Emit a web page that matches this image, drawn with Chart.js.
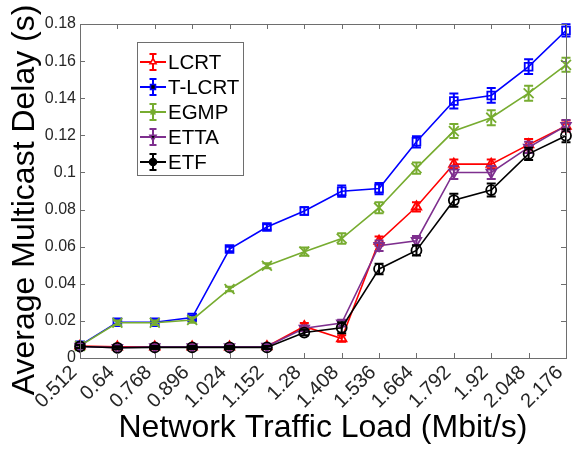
<!DOCTYPE html>
<html>
<head>
<meta charset="utf-8">
<script src="https://cdn.jsdelivr.net/npm/chart.js@4/dist/chart.umd.min.js"></script>
<style>
  html, body { margin: 0; padding: 0; background: #fff; }
  canvas { display: block; }
</style>
</head>
<body>
<canvas id="c" width="576" height="455"></canvas>
<script>
// Traffic load values (Mbit/s) along the x axis
const loads = ['0.512', '0.64', '0.768', '0.896', '1.024', '1.152', '1.28',
               '1.408', '1.536', '1.664', '1.792', '1.92', '2.048', '2.176'];

// Mean multicast delay (s) per protocol
const lcrt  = [0.0065, 0.006, 0.006, 0.006, 0.006, 0.0062, 0.017, 0.0105, 0.063, 0.0815, 0.1045, 0.1045, 0.115, 0.125];
const tlcrt = [0.0068, 0.0193, 0.0193, 0.0218, 0.0587, 0.0706, 0.0792, 0.0899, 0.0913, 0.1165, 0.1385, 0.1415, 0.157, 0.1765];
const egmp  = [0.0065, 0.019, 0.019, 0.0205, 0.0372, 0.0497, 0.0573, 0.0644, 0.081, 0.1023, 0.1223, 0.1295, 0.1427, 0.158];
const etta  = [0.0062, 0.0056, 0.006, 0.006, 0.006, 0.0062, 0.016, 0.0188, 0.0605, 0.0632, 0.100, 0.100, 0.1135, 0.1252];
const etf   = [0.0062, 0.0055, 0.0057, 0.0057, 0.0057, 0.0057, 0.0137, 0.0163, 0.048, 0.058, 0.085, 0.0905, 0.110, 0.1198];

// Half-width of the error bars (s)
const lcrtErr  = [0.001, 0.0008, 0.0008, 0.0008, 0.0008, 0.0008, 0.0018, 0.0018, 0.0025, 0.0025, 0.0025, 0.0025, 0.003, 0.003];
const tlcrtErr = [0.001, 0.0012, 0.0012, 0.0012, 0.0012, 0.0015, 0.002, 0.003, 0.003, 0.003, 0.004, 0.004, 0.004, 0.0033];
const egmpErr  = [0.001, 0.0012, 0.0012, 0.0015, 0.0012, 0.0013, 0.0022, 0.0028, 0.003, 0.003, 0.0038, 0.004, 0.004, 0.0038];
const ettaErr  = [0.0008, 0.0008, 0.0008, 0.0008, 0.0008, 0.0008, 0.0015, 0.0018, 0.0028, 0.0025, 0.0035, 0.0035, 0.003, 0.003];
const etfErr   = [0.0008, 0.0008, 0.0008, 0.0008, 0.0008, 0.0008, 0.0015, 0.003, 0.0028, 0.0028, 0.0035, 0.0035, 0.0033, 0.0035];

// Y axis range and step
const yMin = 0, yMax = 0.18, yStep = 0.02;

const FONT = 'Arial, "Liberation Sans", sans-serif';
const AXIS_COLOR = '#6e6e6e';

function series(label, data, err, color, style, radius, rotation, order) {
  return {
    label, data, errors: err,
    borderColor: color, backgroundColor: 'rgba(0,0,0,0)',
    pointBorderColor: color, pointBackgroundColor: 'rgba(0,0,0,0)',
    pointStyle: style, pointRadius: radius, pointBorderWidth: 1.8,
    pointRotation: rotation, borderWidth: 1.6, tension: 0,
    clip: false, order
  };
}

// Vertical error bars with caps, drawn right after each dataset
const errorBars = {
  id: 'errorBars',
  afterDatasetDraw(chart, args) {
    const ds = chart.data.datasets[args.index];
    if (!ds.errors) return;
    const y = chart.scales.y;
    const ctx = chart.ctx;
    ctx.save();
    ctx.strokeStyle = ds.borderColor;
    ctx.lineWidth = 2;
    args.meta.data.forEach((pt, i) => {
      const v = ds.data[i], e = ds.errors[i];
      const top = y.getPixelForValue(v + e);
      const bot = y.getPixelForValue(v - e);
      const x = pt.x, c = 4.5;
      ctx.beginPath();
      ctx.moveTo(x, top); ctx.lineTo(x, bot);
      ctx.moveTo(x - c, top); ctx.lineTo(x + c, top);
      ctx.moveTo(x - c, bot); ctx.lineTo(x + c, bot);
      ctx.stroke();
    });
    ctx.restore();
  }
};

// Axes box with inward tick marks on all four sides
const axesBox = {
  id: 'axesBox',
  afterDraw(chart) {
    const { ctx, chartArea: a, scales } = chart;
    ctx.save();
    ctx.strokeStyle = AXIS_COLOR;
    ctx.lineWidth = 1;
    ctx.strokeRect(Math.round(a.left) + 0.5, Math.round(a.top) + 0.5,
                   Math.round(a.right - a.left), Math.round(a.bottom - a.top));
    const t = 5;
    ctx.beginPath();
    scales.x.ticks.forEach((tk, i) => {
      const x = Math.round(scales.x.getPixelForTick(i)) + 0.5;
      ctx.moveTo(x, a.bottom); ctx.lineTo(x, a.bottom - t);
      ctx.moveTo(x, a.top); ctx.lineTo(x, a.top + t);
    });
    scales.y.ticks.forEach((tk, i) => {
      const yy = Math.round(scales.y.getPixelForTick(i)) + 0.5;
      ctx.moveTo(a.left, yy); ctx.lineTo(a.left + t, yy);
      ctx.moveTo(a.right, yy); ctx.lineTo(a.right - t, yy);
    });
    ctx.stroke();
    ctx.restore();
  }
};

// Boxed legend inside the plot area, each entry with its line, error bar and marker
const boxLegend = {
  id: 'boxLegend',
  afterDraw(chart) {
    const ctx = chart.ctx;
    const x0 = 137, y0 = 42, w = 106, rowH = 25, top = 20;
    const sets = chart.data.datasets;
    const h = top * 2 + rowH * (sets.length - 1) - 7;
    ctx.save();
    ctx.fillStyle = '#fff';
    ctx.fillRect(x0, y0, w, h);
    ctx.strokeStyle = AXIS_COLOR;
    ctx.lineWidth = 1;
    ctx.strokeRect(x0 + 0.5, y0 + 0.5, w, h);
    ctx.font = '20.5px ' + FONT;
    ctx.textBaseline = 'middle';
    sets.forEach((ds, i) => {
      const yy = y0 + top + i * rowH;
      const lx0 = x0 + 3, lx1 = x0 + 29, mx = (lx0 + lx1) / 2;
      ctx.strokeStyle = ds.borderColor;
      ctx.lineWidth = 2;
      ctx.beginPath();
      ctx.moveTo(lx0, yy); ctx.lineTo(lx1, yy);
      ctx.moveTo(mx, yy - 8); ctx.lineTo(mx, yy + 8);
      ctx.moveTo(mx - 3.5, yy - 8); ctx.lineTo(mx + 3.5, yy - 8);
      ctx.moveTo(mx - 3.5, yy + 8); ctx.lineTo(mx + 3.5, yy + 8);
      ctx.stroke();
      ctx.lineWidth = 1.6;
      Chart.helpers.drawPoint(ctx, {
        pointStyle: ds.pointStyle, rotation: ds.pointRotation,
        radius: 3.5, borderWidth: 1.6
      }, mx, yy);
      ctx.fillStyle = '#000';
      ctx.fillText(ds.label, x0 + 31, yy + 1);
    });
    ctx.restore();
  }
};

new Chart(document.getElementById('c'), {
  type: 'line',
  data: {
    labels: loads,
    datasets: [
      series('LCRT',   lcrt,  lcrtErr,  '#ff0000', 'triangle', 5.5, 0,   5),
      series('T-LCRT', tlcrt, tlcrtErr, '#0000ff', 'rect',     5.5, 0,   4),
      series('EGMP',   egmp,  egmpErr,  '#77ac30', 'crossRot', 7,   0,   3),
      series('ETTA',   etta,  ettaErr,  '#7e2f8e', 'triangle', 5.5, 180, 2),
      series('ETF',    etf,   etfErr,   '#000000', 'circle',   5,   0,   1)
    ]
  },
  options: {
    responsive: false,
    devicePixelRatio: 1,
    animation: false,
    layout: { padding: { top: 24, right: 10, left: 0, bottom: 0 } },
    plugins: { legend: { display: false }, tooltip: { enabled: false } },
    scales: {
      x: {
        offset: false,
        grid: { display: false, drawTicks: false },
        border: { display: false },
        ticks: {
          minRotation: 45, maxRotation: 45, autoSkip: false, padding: 3,
          labelOffset: -6,
          color: '#262626', font: { family: FONT, size: 20 }
        },
        title: {
          display: true, text: 'Network Traffic Load (Mbit/s)',
          color: '#000', font: { family: FONT, size: 32 }, padding: { top: 4, bottom: 8 }
        },
        afterFit(s) { s.height = 97; s.paddingLeft = 0; s.paddingRight = 0; }
      },
      y: {
        min: yMin, max: yMax,
        grid: { display: false, drawTicks: false },
        border: { display: false },
        ticks: {
          stepSize: yStep, padding: 4,
          color: '#262626', font: { family: FONT, size: 16 },
          callback: v => String(Number(v.toFixed(2)))
        },
        title: {
          display: true, text: 'Average Multicast Delay (s)  ',
          color: '#000', font: { family: FONT, size: 32 }, padding: { top: 6, bottom: 2 }
        },
        afterFit(s) { s.width = 80; s.paddingTop = 0; s.paddingBottom = 0; }
      }
    }
  },
  plugins: [errorBars, axesBox, boxLegend]
});
</script>
</body>
</html>
